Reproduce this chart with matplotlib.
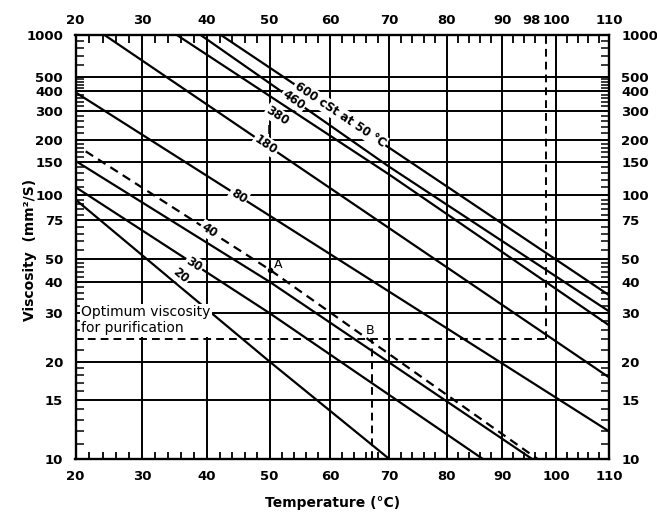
import numpy as np
import matplotlib
matplotlib.use("Agg")
import matplotlib.pyplot as plt
from matplotlib.ticker import FixedLocator, NullFormatter
import matplotlib.transforms as mtrans

# ---------------- data ----------------
temp_ticks = [20, 30, 40, 50, 60, 70, 80, 90, 100, 110]
temp_top_ticks = [20, 30, 40, 50, 60, 70, 80, 90, 98, 100, 110]
temp_minor = [22, 24, 26, 28, 32, 34, 36, 38, 42, 44, 46, 48, 52, 54, 56, 58,
              62, 64, 66, 68, 72, 74, 76, 78, 82, 84, 86, 88, 92, 94, 96, 98,
              102, 104, 106, 108]
visc_ticks = [10, 15, 20, 30, 40, 50, 75, 100, 150, 200, 300, 400, 500, 1000]
visc_minor = [11, 12, 13, 14, 16, 17, 18, 19, 22, 24, 26, 28,
              32, 34, 36, 38, 42, 44, 46, 48,
              55, 60, 65, 70, 80, 85, 90, 95, 110, 120, 130, 140, 160, 170, 180, 190,
              220, 240, 260, 280, 320, 340, 360, 380, 420, 440, 460, 480,
              600, 700, 800, 900]

# fuel lines: points (temperature degC, viscosity cSt)
line_labels = ["600 cSt at 50 °C", "460", "380", "180", "80", "40", "", "30", "20"]
line_temps = [
    [42.2, 70.0, 110.0],
    [39.0, 70.0, 110.0],
    [35.3, 70.0, 110.0],
    [24.3, 110.0],
    [20.0, 110.0],
    [21.5, 50.0, 96.5],
    [20.0, 50.0, 95.5],
    [20.0, 50.0, 86.5],
    [20.0, 50.0, 70.0],
]
line_viscs = [
    [1000, 180, 35.3],
    [1000, 141, 30.5],
    [1000, 128, 27.0],
    [1000, 17.7],
    [394, 12.0],
    [172, 45, 10],
    [152, 40, 10],
    [110, 30, 10],
    [95, 20, 10],
]
line_dashed = [False, False, False, False, False, True, False, False, False]
# label temperature along each line
label_temp = [61.6, 53.9, 51.3, 49.4, 45.0, 40.3, None, 38.0, 35.9]

optimum_visc = 24
heating_temp = 98
point_a_temp, point_a_visc = 50, 45
point_b_temp = 67

# ---------------- scales ----------------
def xf(t):
    t = np.asarray(t, dtype=float)
    return np.log10(np.maximum(t, -270.0) + 273.15)

def xi(x):
    return 10.0 ** np.asarray(x, dtype=float) - 273.15

def yf(v):
    v = np.asarray(v, dtype=float)
    return np.log10(np.log10(np.maximum(v, 0.35) + 0.7))

def yi(z):
    return 10.0 ** (10.0 ** np.asarray(z, dtype=float)) - 0.7

plt.rcParams['font.family'] = ['DejaVu Sans']
plt.rcParams['font.weight'] = 'bold'

W, H = 657, 522
fig = plt.figure(figsize=(W / 100, H / 100), dpi=100)
ax = fig.add_axes([75.5 / W, 1 - 459 / H, 533.5 / W, 424 / H])
ax.set_xscale('function', functions=(xf, xi))
ax.set_yscale('function', functions=(yf, yi))
ax.set_xlim(20, 110)
ax.set_ylim(10, 1000)

for s in ax.spines.values():
    s.set_linewidth(1.7)

ax.xaxis.set_major_locator(FixedLocator(temp_ticks))
ax.set_xticklabels([str(t) for t in temp_ticks])
ax.xaxis.set_minor_locator(FixedLocator(temp_minor))
ax.xaxis.set_minor_formatter(NullFormatter())
ax.yaxis.set_major_locator(FixedLocator(visc_ticks))
ax.set_yticklabels([str(v) for v in visc_ticks])
ax.yaxis.set_minor_locator(FixedLocator(visc_minor))
ax.yaxis.set_minor_formatter(NullFormatter())

ax.tick_params(axis='both', which='major', length=0, labelsize=9.5)
ax.tick_params(axis='x', which='major', pad=8)
ax.tick_params(axis='y', which='major', pad=9, labelright=True, right=True)
ax.tick_params(axis='x', which='minor', direction='in', length=5, width=1.3,
               bottom=True, top=False)
ax.tick_params(axis='y', which='minor', direction='in', length=6, width=1.1,
               left=True, right=True)
for lab in ax.get_yticklabels():
    lab.set_fontweight('bold')

ax2 = ax.twiny()
ax2.set_xscale('function', functions=(xf, xi))
ax2.set_xlim(20, 110)
ax2.xaxis.set_major_locator(FixedLocator(temp_top_ticks))
ax2.set_xticklabels([str(t) for t in temp_top_ticks])
ax2.xaxis.set_minor_locator(FixedLocator([t for t in temp_minor if t != 98]))
ax2.xaxis.set_minor_formatter(NullFormatter())
ax2.tick_params(axis='x', which='major', length=0, labelsize=9.5, pad=6)
ax2.tick_params(axis='x', which='minor', direction='in', length=6, width=1.3)
for s in ax2.spines.values():
    s.set_visible(False)
for lab, t in zip(ax2.get_xticklabels(), temp_top_ticks):
    if t == 98:
        lab.set_transform(lab.get_transform() +
                          mtrans.ScaledTranslation(-14 / 100, 0, fig.dpi_scale_trans))

ax.grid(True, which='major', color='black', linewidth=1.4)
ax.set_axisbelow(True)

dash = (0, (4.0, 2.6))

# fuel lines
for i in range(len(line_labels)):
    ls = dash if line_dashed[i] else '-'
    ax.plot(line_temps[i], line_viscs[i], color='black', lw=1.6, linestyle=ls,
            solid_capstyle='butt', solid_joinstyle='round', zorder=3)

# line labels placed on their lines
def on_line(i, T):
    pts = ax.transData.transform(np.column_stack([line_temps[i], line_viscs[i]]))
    xd = ax.transData.transform((T, 100))[0]
    k = 0
    while k < len(pts) - 2 and xd > pts[k + 1][0]:
        k += 1
    p0, p1 = pts[k], pts[k + 1]
    f = (xd - p0[0]) / (p1[0] - p0[0])
    yd = p0[1] + f * (p1[1] - p0[1])
    ang = np.degrees(np.arctan2(p1[1] - p0[1], p1[0] - p0[0]))
    return ax.transData.inverted().transform((xd, yd)), ang

label_offsets = [(0, 0), (0, 0), (0, -15), (0, 0), (0, 0), (0, 0), None, (0, 0), (0, 12)]
for i, txt in enumerate(line_labels):
    if not txt:
        continue
    (xt, yt), ang = on_line(i, label_temp[i])
    ax.annotate(txt, xy=(xt, yt), xytext=label_offsets[i], textcoords='offset pixels',
                rotation=ang, rotation_mode='anchor', ha='center', va='center',
                fontsize=8.5, fontweight='bold', zorder=5,
                bbox=dict(boxstyle='square,pad=0.12', fc='white', ec='none'))
    if txt == "380":
        ax.annotate('|', xy=(xt, yt), xytext=(-9, -28), textcoords='offset pixels',
                    ha='center', va='center', fontsize=6, fontweight='normal', zorder=5)

# purification construction lines
ax.plot([20, heating_temp], [optimum_visc, optimum_visc], color='black', lw=1.4,
        linestyle=dash, zorder=3)
ax.plot([heating_temp, heating_temp], [optimum_visc, 1000], color='black', lw=1.4,
        linestyle=dash, zorder=3)
ax.plot([point_b_temp, point_b_temp], [10, optimum_visc], color='black', lw=1.4,
        linestyle=dash, zorder=3)
ax.plot([point_a_temp], [point_a_visc], 'o', color='black', ms=3, zorder=4)
ax.annotate('A', xy=(point_a_temp, point_a_visc), xytext=(9, 5), textcoords='offset pixels',
            ha='center', va='center', fontsize=9, fontweight='normal', zorder=5)
ax.annotate('B', xy=(point_b_temp, optimum_visc), xytext=(-2, 9), textcoords='offset pixels',
            ha='center', va='center', fontsize=9, fontweight='normal', zorder=5)

ax.annotate('Optimum viscosity\nfor purification', xy=(20, optimum_visc), xytext=(6, 4),
            textcoords='offset pixels', ha='left', va='bottom', fontsize=10,
            fontweight='normal', linespacing=1.2, zorder=5,
            bbox=dict(boxstyle='square,pad=0.1', fc='white', ec='none'))

fig.text(30 / W, 1 - 250 / H, 'Viscosity  (mm²/S)', rotation=90, ha='center', va='center',
         fontsize=10, fontweight='bold')
fig.text(333 / W, 1 - 503 / H, 'Temperature (°C)', ha='center', va='center',
         fontsize=10, fontweight='bold')

fig.savefig('out.png', dpi=100, facecolor='white')
